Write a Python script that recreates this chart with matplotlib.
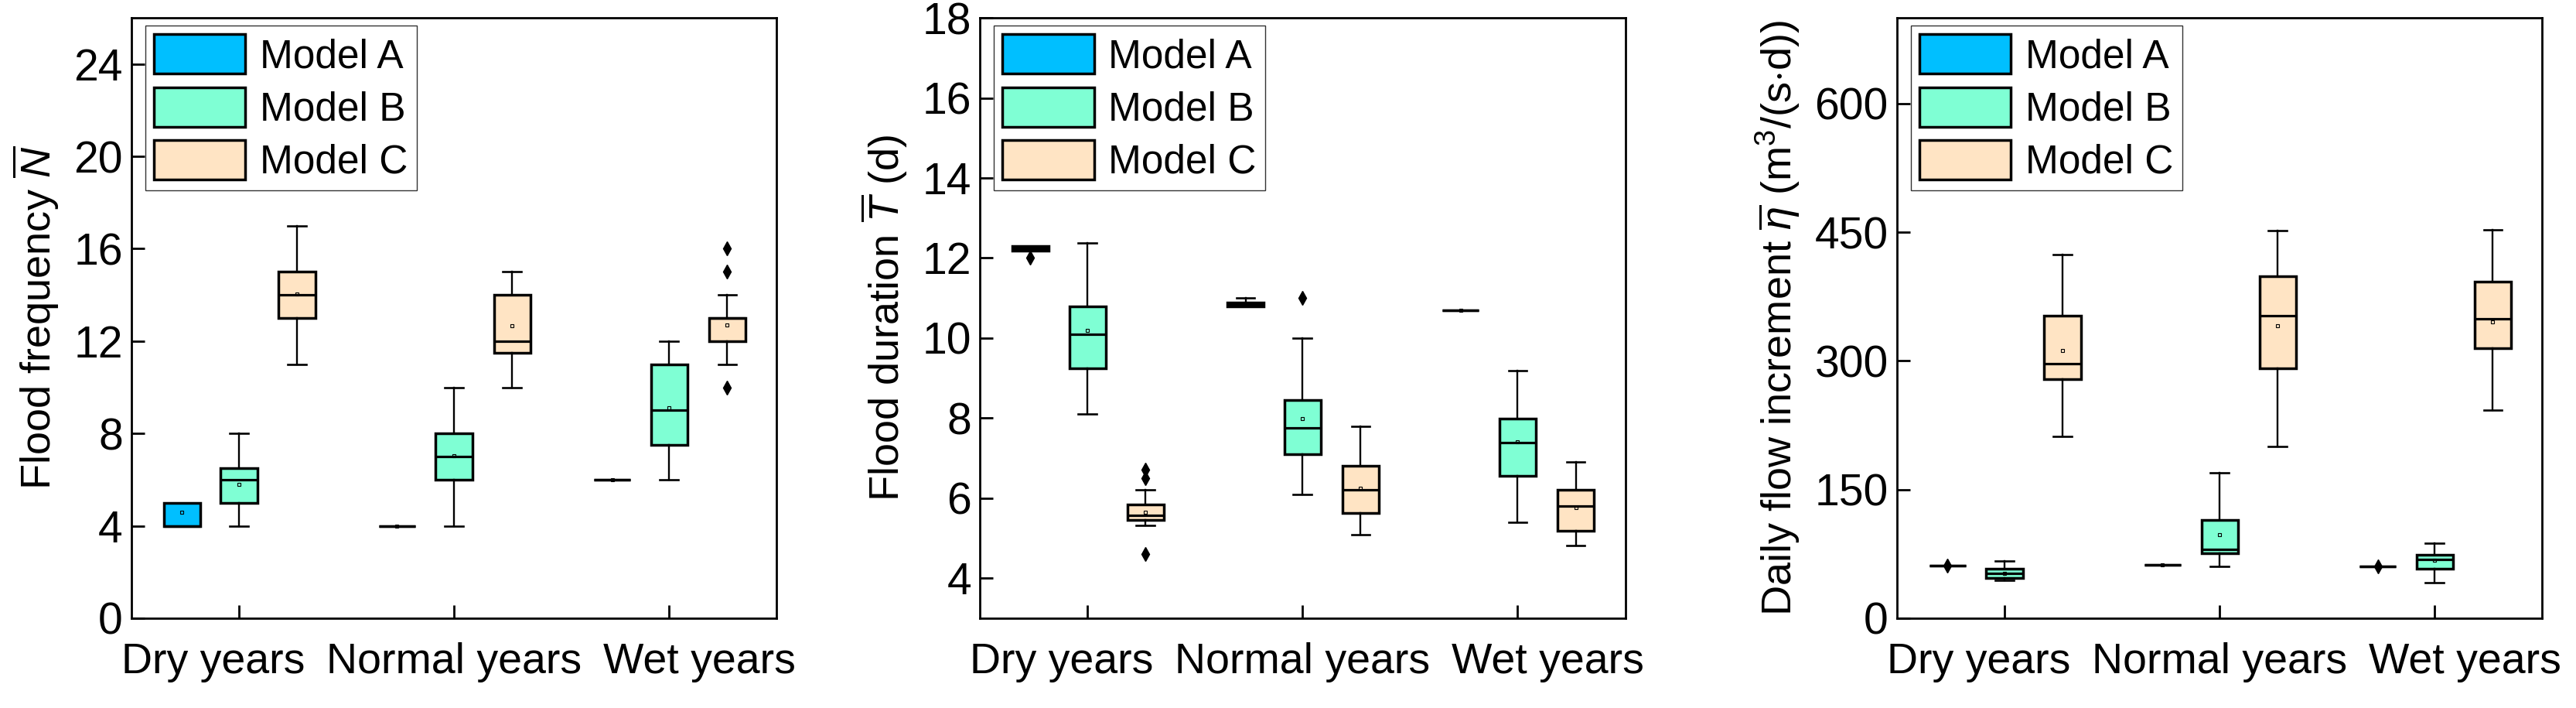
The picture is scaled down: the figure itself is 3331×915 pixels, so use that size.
import matplotlib
matplotlib.use('Agg')
import matplotlib.pyplot as plt
import matplotlib.patches as mpatches
from matplotlib.transforms import ScaledTranslation

plt.rcParams['font.family'] = ['Liberation Sans', 'DejaVu Sans']
plt.rcParams['font.size'] = 38
plt.rcParams['mathtext.fontset'] = 'custom'
plt.rcParams['mathtext.rm'] = 'Liberation Sans'
plt.rcParams['mathtext.it'] = 'Liberation Sans:italic'

#%% Dados (linhas: Model A, B, C ; colunas: Dry, Normal, Wet)

years = ['Dry years', 'Normal years', 'Wet years']
models = ['Model A', 'Model B', 'Model C']
cores = ['#00BFFF', '#7FFFD4', '#FFE4C4']

# Flood frequency
freq_lo = [[4, 4, 6], [4, 4, 6], [11, 10, 11]]
freq_q1 = [[4, 4, 6], [5, 6, 7.5], [13, 11.5, 12]]
freq_med = [[4, 4, 6], [6, 7, 9], [14, 12, 13]]
freq_q3 = [[5, 4, 6], [6.5, 8, 11], [15, 14, 13]]
freq_hi = [[5, 4, 6], [8, 10, 12], [17, 15, 14]]
freq_mean = [[4.6, 4, 6], [5.8, 7.05, 9.1], [14.05, 12.65, 12.7]]
freq_out = [[[], [], []], [[], [], []], [[], [], [10, 15, 16]]]

# Flood duration
dur_lo = [[12.18, 10.79, 10.7], [8.11, 6.1, 5.4], [5.31, 5.09, 4.81]]
dur_q1 = [[12.18, 10.79, 10.7], [9.24, 7.09, 6.55], [5.45, 5.63, 5.18]]
dur_med = [[12.24, 10.83, 10.7], [10.1, 7.76, 7.39], [5.58, 6.2, 5.8]]
dur_q3 = [[12.29, 10.88, 10.7], [10.79, 8.46, 7.98], [5.84, 6.8, 6.2]]
dur_hi = [[12.29, 11.0, 10.7], [12.38, 10.0, 9.19], [6.2, 7.8, 6.9]]
dur_mean = [[12.24, 10.84, 10.7], [10.19, 7.98, 7.4], [5.64, 6.24, 5.76]]
dur_out = [[[12.0], [], []], [[], [11.0], []], [[6.5, 6.71, 4.6], [], []]]

# Daily flow increment
inc_lo = [[61, 62.4, 60.1], [44.2, 60.1, 41.9], [211.6, 200.2, 242.9]]
inc_q1 = [[61, 62.4, 60.1], [47.2, 75.8, 57.5], [279, 291.6, 314.8]]
inc_med = [[61, 62.4, 60.1], [52.2, 80.7, 68.9], [296.5, 352.5, 349]]
inc_q3 = [[61, 62.4, 60.1], [57.5, 114.6, 73.8], [352.5, 398.6, 392.5]]
inc_hi = [[61, 62.4, 60.1], [67, 169.4, 87.2], [424, 451.8, 453]]
inc_mean = [[61, 62.4, 60.1], [52, 97, 67.4], [312.5, 341, 345.3]]
inc_out = [[[61], [], [60.1]], [[], [], []], [[], [], []]]

paineis = [
    (freq_lo, freq_q1, freq_med, freq_q3, freq_hi, freq_mean, freq_out),
    (dur_lo, dur_q1, dur_med, dur_q3, dur_hi, dur_mean, dur_out),
    (inc_lo, inc_q1, inc_med, inc_q3, inc_hi, inc_mean, inc_out),
]
ylabels = [r'Flood frequency $\overline{N}$',
           r'Flood duration $\overline{T}$ (d)',
           r'Daily flow increment $\overline{\eta}$ (m$^{3}$/(s$\cdot$d))']
ylims = [(0, 26), (3, 18), (0, 700)]
yticks = [range(0, 25, 4), range(4, 19, 2), range(0, 601, 150)]

#%% Figura

fig = plt.figure(figsize=(33.31, 9.15), dpi=100)
lefts = [0.051, 0.3804, 0.7364]
offsets = [-0.265, 0.0, 0.27]
largura = 0.17

for p in range(3):
    ax = fig.add_axes([lefts[p], 0.1268, 0.2505, 0.848])
    lo, q1, med, q3, hi, mean, out = paineis[p]
    for m in range(3):
        stats = []
        for y in range(3):
            stats.append({'whislo': lo[m][y], 'q1': q1[m][y], 'med': med[m][y],
                          'q3': q3[m][y], 'whishi': hi[m][y], 'mean': mean[m][y],
                          'fliers': out[m][y]})
        pos = [y + offsets[m] for y in range(3)]
        bp = ax.bxp(stats, positions=pos, widths=largura, patch_artist=True,
                    showmeans=True, manage_ticks=False,
                    boxprops=dict(facecolor=cores[m], edgecolor='black', linewidth=2.5),
                    medianprops=dict(color='black', linewidth=2.3),
                    whiskerprops=dict(color='black', linewidth=1.7),
                    capprops=dict(color='black', linewidth=1.9),
                    meanprops=dict(marker='s', markersize=3, markerfacecolor='none',
                                   markeredgecolor='black', markeredgewidth=0.8),
                    flierprops=dict(marker='d', markersize=9, markerfacecolor='black',
                                    markeredgecolor='black'))

    ax.set_xlim(-0.5, 2.5)
    ax.set_ylim(*ylims[p])
    ax.set_yticks(list(yticks[p]))
    ax.set_xticks([0, 1, 2])
    ax.set_xticklabels(years, fontsize=40)
    ax.tick_params(axis='y', labelsize=41)
    ax.tick_params(direction='in', length=12, width=2, top=False, right=False)
    ax.tick_params(axis='x', pad=22)
    ax.tick_params(axis='y', pad=8)
    for s in ax.spines.values():
        s.set_linewidth(2)
    ax.set_ylabel(ylabels[p], labelpad=12, fontsize=39)

    # rótulos do eixo x um pouco espalhados, como no original
    desloc = [-24, 0, 28]
    for lab, d in zip(ax.get_xticklabels(), desloc):
        lab.set_transform(lab.get_transform() + ScaledTranslation(d / 72, 0, fig.dpi_scale_trans))

    handles = [mpatches.Patch(facecolor=cores[i], edgecolor='black', linewidth=2.5, label=models[i])
               for i in range(3)]
    leg = ax.legend(handles=handles, loc='upper left', bbox_to_anchor=(0.0216, 0.987),
                    borderaxespad=0, frameon=True, fancybox=False, handlelength=2.3,
                    handleheight=1.15, labelspacing=0.28, handletextpad=0.36,
                    borderpad=0.22, fontsize=37)
    leg.get_frame().set_edgecolor('black')
    leg.get_frame().set_linewidth(1)

fig.savefig('out.png', dpi=100)
